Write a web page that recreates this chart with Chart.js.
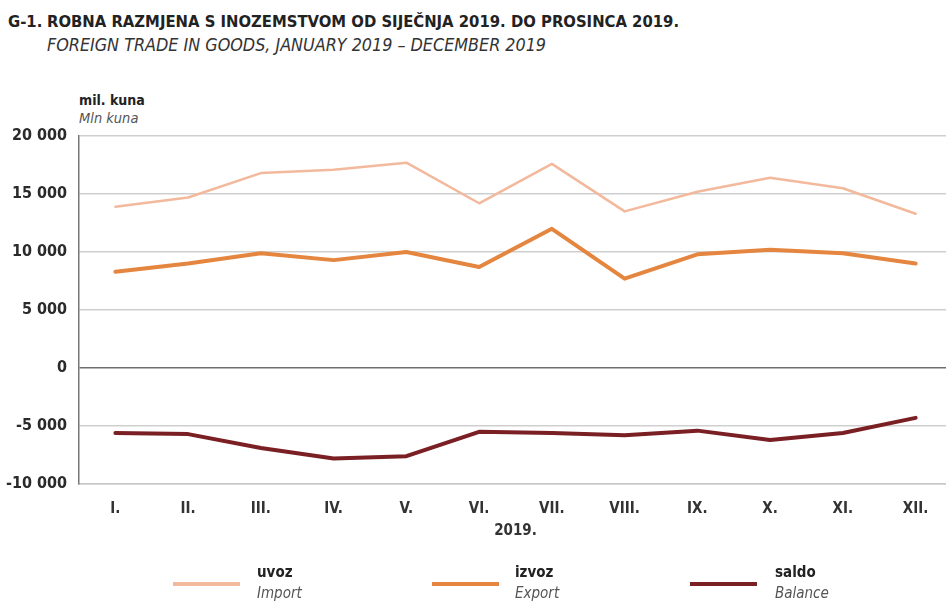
<!DOCTYPE html>
<html>
<head>
<meta charset="utf-8">
<script src="https://cdn.jsdelivr.net/npm/chart.js@4.4.0/dist/chart.umd.min.js"></script>
<style>
  html, body { margin: 0; padding: 0; background: #fff; overflow: hidden; width: 946px; height: 602px; }
  body { position: relative; font-family: "Liberation Sans Narrow", "DejaVu Sans Condensed", "Liberation Sans", sans-serif; color: #222; }
  #wrap { position: absolute; left: 0; top: 0; width: 952px; height: 602px; }
  .t { position: absolute; white-space: nowrap; line-height: 1; }
  .b { font-weight: bold; }
  .i { font-style: italic; color: #555; }
  .leg-line { position: absolute; height: 4px; width: 67px; top: 582px; }
</style>
</head>
<body>
<div class="t b" style="left:8px; top:14px; font-size:16.5px;">G-1.</div>
<div class="t b" style="left:47px; top:14px; font-size:16.5px;">ROBNA RAZMJENA S INOZEMSTVOM OD SIJEČNJA 2019. DO PROSINCA 2019.</div>
<div class="t i" style="left:47px; top:36px; font-size:17.8px; color:#333;">FOREIGN TRADE IN GOODS, JANUARY 2019 – DECEMBER 2019</div>

<div class="t b" style="left:79px; top:93px; font-size:14px;">mil. kuna</div>
<div class="t i" style="left:79px; top:111px; font-size:14.5px;">Mln kuna</div>

<div id="wrap"><canvas id="chart" width="952" height="602"></canvas></div>

<div class="leg-line" style="left:173px; background:#f2b99c;"></div>
<div class="t b" style="left:257px; top:565px; font-size:15px;">uvoz</div>
<div class="t i" style="left:257px; top:586px; font-size:15px;">Import</div>

<div class="leg-line" style="left:432px; background:#e4863f;"></div>
<div class="t b" style="left:515px; top:565px; font-size:15px;">izvoz</div>
<div class="t i" style="left:515px; top:586px; font-size:15px;">Export</div>

<div class="leg-line" style="left:690px; background:#7a1f23;"></div>
<div class="t b" style="left:775px; top:565px; font-size:15px;">saldo</div>
<div class="t i" style="left:775px; top:586px; font-size:15px;">Balance</div>

<script>
const months = ['I.', 'II.', 'III.', 'IV.', 'V.', 'VI.', 'VII.', 'VIII.', 'IX.', 'X.', 'XI.', 'XII.'];
const uvoz = [13900, 14700, 16800, 17100, 17700, 14200, 17600, 13500, 15200, 16400, 15500, 13300];
const izvoz = [8300, 9000, 9900, 9300, 10000, 8700, 12000, 7700, 9800, 10200, 9900, 9000];
const saldo = [-5600, -5700, -6900, -7800, -7600, -5500, -5600, -5800, -5400, -6200, -5600, -4300];
const yTicks = [-10000, -5000, 0, 5000, 10000, 15000, 20000];

const fontFamily = '"Liberation Sans Narrow", "DejaVu Sans Condensed", "Liberation Sans", sans-serif';

function fmt(v) {
    const s = String(Math.abs(v)).replace(/\B(?=(\d{3})+(?!\d))/g, ' ');
    return (v < 0 ? '-' : '') + s;
}

const data = {
    labels: months,
    datasets: [
        { label: 'uvoz', data: uvoz, borderColor: '#f2b99c', borderWidth: 2.5 },
        { label: 'izvoz', data: izvoz, borderColor: '#e4863f', borderWidth: 4 },
        { label: 'saldo', data: saldo, borderColor: '#7a1f23', borderWidth: 4 }
    ]
};

const options = {
    responsive: false,
    animation: false,
    devicePixelRatio: 1,
    layout: { padding: { top: 136, left: 0, right: 0, bottom: 0 } },
    elements: {
        point: { radius: 0 },
        line: { tension: 0, borderJoinStyle: 'round', borderCapStyle: 'round' }
    },
    plugins: {
        legend: { display: false },
        tooltip: { enabled: false }
    },
    scales: {
        x: {
            offset: true,
            grid: { display: false, drawTicks: false },
            border: { display: true, color: '#c8c8c8', width: 1.5 },
            ticks: {
                padding: 16,
                color: '#333',
                font: { family: fontFamily, size: 15, weight: 'bold' }
            },
            title: {
                display: true,
                text: '2019.',
                color: '#333',
                padding: { top: 0, bottom: 62 },
                font: { family: fontFamily, size: 15, weight: 'bold' }
            },
            afterFit: (axis) => { axis.height = 118; }
        },
        y: {
            min: -10000,
            max: 20000,
            afterBuildTicks: (axis) => { axis.ticks = yTicks.map(v => ({ value: v })); },
            grid: {
                drawTicks: false,
                lineWidth: 1.5,
                color: (ctx) => (ctx.tick && ctx.tick.value === 0) ? '#6e6e6e' : '#cfcfcf'
            },
            border: { display: true, color: '#777', width: 1.5 },
            ticks: {
                padding: 12,
                color: '#2a2a2a',
                font: { family: fontFamily, size: 16, weight: 'bold' },
                callback: (v) => fmt(v)
            },
            afterFit: (axis) => { axis.width = 79; }
        }
    }
};

new Chart(document.getElementById('chart'), { type: 'line', data: data, options: options });
</script>
</body>
</html>
